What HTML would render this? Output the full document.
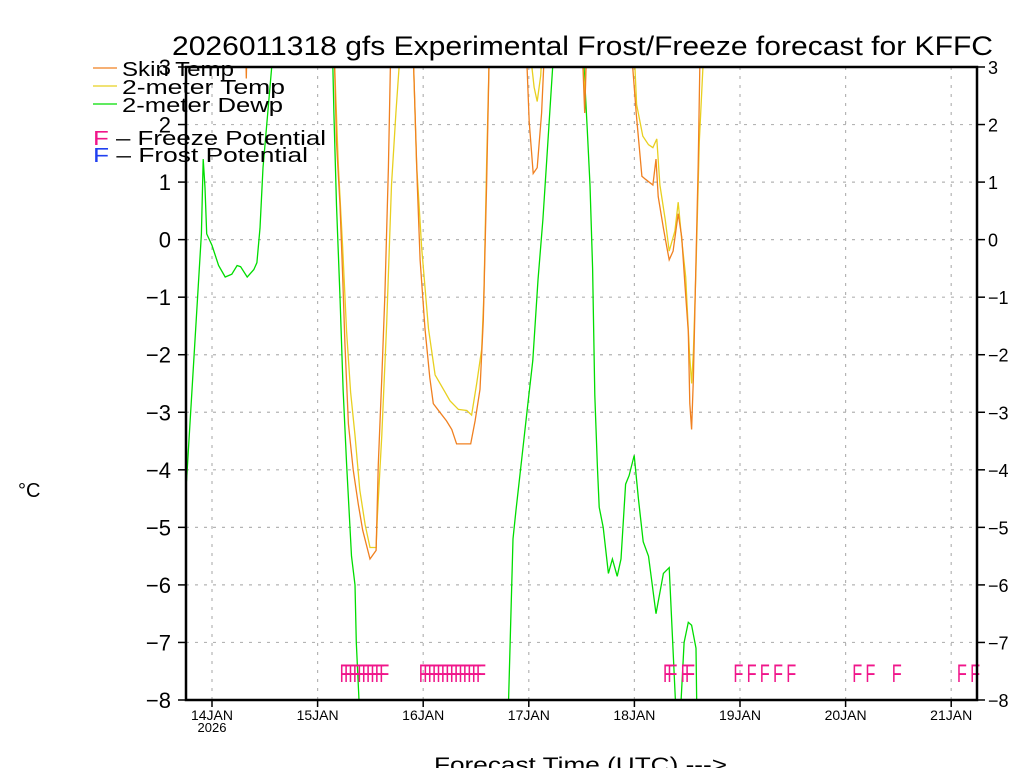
<!DOCTYPE html>
<html><head><meta charset="utf-8"><style>
html,body{margin:0;padding:0;background:#fff;width:1024px;height:768px;overflow:hidden}
svg text{font-family:"Liberation Sans",sans-serif}
</style></head><body>
<svg id="chart" width="1024" height="768" viewBox="0 0 1024 768" xmlns="http://www.w3.org/2000/svg">
<defs><clipPath id="plotclip"><rect x="186" y="67" width="791" height="633"/></clipPath></defs>
<text x="172" y="55" font-size="27" textLength="821" lengthAdjust="spacingAndGlyphs">2026011318 gfs Experimental Frost/Freeze forecast for KFFC</text>
<g id="grid"></g>
<g id="series" clip-path="url(#plotclip)"></g>
<g id="marks"></g>
<rect x="186" y="67" width="791" height="633" fill="none" stroke="#000" stroke-width="2.5"/>
<g id="axes"></g>
<text x="18" y="497" font-size="20">°C</text>
<text x="434" y="772" font-size="21" textLength="293" lengthAdjust="spacingAndGlyphs">Forecast Time (UTC) ---&gt;</text>
<g>
<line x1="93" y1="68" x2="117" y2="68" stroke="#f08020" stroke-width="1.3"/>
<text x="122" y="76" font-size="20" textLength="112" lengthAdjust="spacingAndGlyphs">Skin Temp</text>
<line x1="93" y1="86" x2="117" y2="86" stroke="#e8d020" stroke-width="1.3"/>
<text x="122" y="94" font-size="20" textLength="163" lengthAdjust="spacingAndGlyphs">2-meter Temp</text>
<line x1="93" y1="104" x2="117" y2="104" stroke="#00dd00" stroke-width="1.3"/>
<text x="122" y="112" font-size="20" textLength="161" lengthAdjust="spacingAndGlyphs">2-meter Dewp</text>
<text x="93" y="145" font-size="20" textLength="233" lengthAdjust="spacingAndGlyphs"><tspan fill="#f0158a">F</tspan> – Freeze Potential</text>
<text x="93" y="162" font-size="20" textLength="215" lengthAdjust="spacingAndGlyphs"><tspan fill="#2040f0">F</tspan> – Frost Potential</text>
</g>
</svg>
<script>
// hours from 14JAN 00Z; null = break
const dewHours=[-5.8,-2.4,-2.0,-1.6,-1.2,0,1.5,3,4.5,5.7,6.5,8,9.5,10.2,10.9,11.6,12.5,13.8,null,27.4,27.7,28.3,29.1,29.8,30.6,31.7,32.5,32.8,33.6,null,67.3,68.4,69.1,70.4,71.8,72.9,74.1,75.2,76.1,77.6,null,84.4,85.3,85.9,86.5,87,87.6,88,88.9,90.1,91,92.1,92.95,94,94.8,95.95,96.9,98,99.2,100.9,102.6,103.9,104.7,105.5,null,106.4,107.3,108.25,109,110,110.2];
const dewVals=[-4.2,0.1,1.4,0.9,0.1,-0.1,-0.45,-0.65,-0.6,-0.45,-0.47,-0.65,-0.52,-0.4,0.2,1.25,2.05,3.2,null,3.2,2.2,0.6,-1,-2.6,-3.9,-5.5,-6,-7,-8.3,null,-8.3,-5.2,-4.7,-3.8,-2.85,-2.1,-0.7,0.35,1.4,3.2,null,3.2,1.9,0.95,-0.5,-2.7,-3.95,-4.65,-5,-5.8,-5.55,-5.85,-5.55,-4.25,-4.1,-3.75,-4.5,-5.25,-5.5,-6.5,-5.8,-5.7,-7,-8.3,null,-8.3,-7,-6.65,-6.7,-7.1,-8.3];
const skinHours=[7.7,7.8,7.9,null,27.8,28.3,29.1,29.7,30.2,31,32.1,33.25,34.25,35.9,37.3,37.8,38.6,39.3,40.1,40.6,null,45.75,46.65,47.3,48.4,49.5,50.3,51.8,53.3,54.5,55.6,58.8,59.8,60.9,61.65,62.4,63,null,71.5,72.1,73,73.9,74.9,75.5,null,84.2,84.7,85.1,null,95.4,96.4,97.0,97.7,98.5,100.2,100.9,101.4,102.6,103.3,103.9,104.8,105.95,106.75,107.5,108.25,108.6,109,109.4,110,110.5,110.9];
const skinVals=[3.2,2.8,3.2,null,3.2,1.7,0.6,-0.65,-1.8,-3.2,-4,-4.6,-5.05,-5.55,-5.4,-3.9,-2.4,-0.95,1.25,3.2,null,3.2,0.95,-0.35,-1.55,-2.4,-2.85,-3,-3.15,-3.3,-3.55,-3.55,-3.15,-2.6,-1.4,0.95,3.2,null,3.2,2.05,1.15,1.25,2.2,3.2,null,3.2,2.2,3.2,null,3.2,2.2,1.7,1.1,1.05,0.95,1.4,0.75,0.2,-0.1,-0.35,-0.2,0.45,0.05,-0.8,-1.6,-2.85,-3.3,-2.4,-0.35,1.3,3.2];
const tempHours=[27.8,28.7,29.7,30.6,31.5,32.5,33.6,34.8,35.9,37.3,37.6,38.6,39.7,40.8,41.8,42.7,null,45.75,46.5,47.65,49.2,50.7,52.95,54.1,56,57.9,59,60.15,61.3,61.8,62.4,63,null,72.4,73.2,73.9,74.7,74.95,null,84.2,84.7,85.1,null,96,96.5,97.9,99.2,100.2,101.1,101.8,103,103.9,105.2,105.95,106.75,107.65,108.5,109,109.4,110,110.75,111.7];
const tempVals=[3.2,1.3,-0.15,-1.6,-2.65,-3.4,-4.35,-4.95,-5.35,-5.35,-4.8,-3.4,-1.45,0.95,2.2,3.2,null,3.2,1.3,-0.15,-1.55,-2.35,-2.65,-2.8,-2.95,-2.97,-3.05,-2.5,-1.9,-0.95,1.3,3.2,null,3.2,2.65,2.4,2.85,3.2,null,3.2,2.5,3.2,null,3.2,2.35,1.8,1.65,1.6,1.75,0.95,0.35,-0.2,0.15,0.65,0,-0.65,-1.95,-2.5,-1.95,-0.5,1.7,3.2];
const freezeHours=[29,30,31,32,33,34,35,36,37,38,47,48,49,50,51,52,53,54,55,56,57,58,59,60,102.5,103.5,106.5,107.5,118.5,121.5,124.5,127.5,130.5,145.5,148.5,154.5,169.3,172.3];
const yTicks=[3,2,1,0,-1,-2,-3,-4,-5,-6,-7,-8];
const dayLabels=["14JAN","15JAN","16JAN","17JAN","18JAN","19JAN","20JAN","21JAN"];

const NS="http://www.w3.org/2000/svg";
const xS=h=>212+h*4.4;
const yS=v=>67+(3-v)*57.545;
function mk(tag,attrs,parent){const e=document.createElementNS(NS,tag);for(const k in attrs)e.setAttribute(k,attrs[k]);parent.appendChild(e);return e;}
const grid=document.getElementById('grid'),axes=document.getElementById('axes'),series=document.getElementById('series'),marks=document.getElementById('marks');
yTicks.forEach(v=>{
  const y=yS(v);
  if(v<3&&v>-8){const g=mk('line',{x1:186,x2:977,y1:y,y2:y,stroke:'#b4b4b4','stroke-width':1.2,'stroke-dasharray':'3,6'},grid);
  
  }
  const t1=mk('line',{x1:178,x2:186,y1:y,y2:y,stroke:'#000','stroke-width':1.5},axes);
  
  
  const t2=mk('line',{x1:977,x2:985,y1:y,y2:y,stroke:'#000','stroke-width':1.5},axes);
  
  
  const lbl=v<0?'−'+(-v):String(v);
  const l=mk('text',{x:171,y:y+8,'font-size':22,'text-anchor':'end'},axes);l.textContent=lbl;
  
  
  const r=mk('text',{x:988,y:y+7,'font-size':18},axes);r.textContent=lbl;
  
  
});
dayLabels.forEach((d,i)=>{
  const x=xS(i*24);
  const g=mk('line',{x1:x,x2:x,y1:67,y2:700,stroke:'#b4b4b4','stroke-width':1.2,'stroke-dasharray':'3,6'},grid);
  
  
  const tk=mk('line',{x1:x,x2:x,y1:700,y2:707,stroke:'#000','stroke-width':1.5},axes);
  
  
  const t=mk('text',{x:x,y:720,'font-size':14,'text-anchor':'middle'},axes);t.textContent=d;
  
  
});
const yr=mk('text',{x:xS(0),y:732,'font-size':13,'text-anchor':'middle'},axes);yr.textContent='2026';


function line(hs,vs,color,name){
  let d='',pen=false;
  hs.forEach((h,i)=>{if(h===null||vs[i]===null){pen=false;return;}d+=(pen?'L':'M')+xS(h).toFixed(1)+' '+yS(vs[i]).toFixed(1);pen=true;});
  const p=mk('path',{d:d,fill:'none',stroke:color,'stroke-width':1.3},series);
  
  
}
line(dewHours,dewVals,'#00dd00','dewpoint-line');
line(tempHours,tempVals,'#e8d020','2m-temp-line');
line(skinHours,skinVals,'#f08020','skin-temp-line');
freezeHours.forEach(h=>{
  const t=mk('text',{x:xS(h),y:682,'font-size':25,fill:'#f0158a',textLength:10,lengthAdjust:'spacingAndGlyphs'},marks);
  t.textContent='F';
  
  
});
</script>
</body></html>
